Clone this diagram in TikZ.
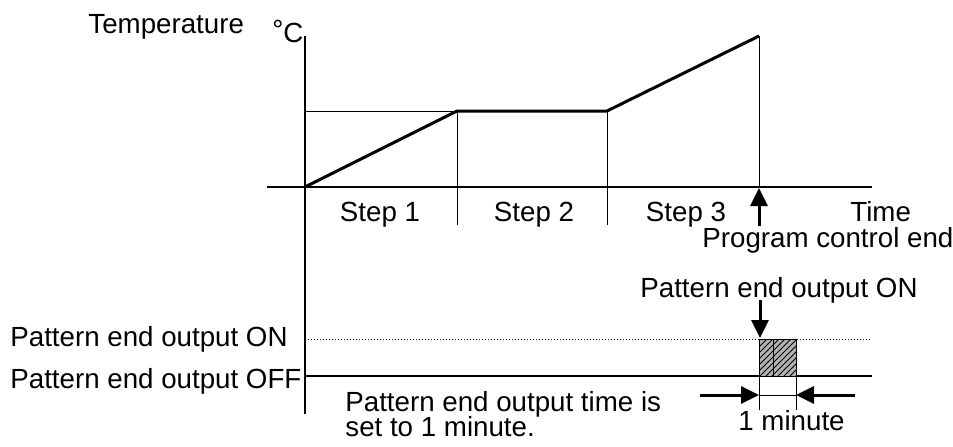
\documentclass[tikz,border=0pt]{standalone}
\usepackage{fontspec}
\setmainfont{Liberation Sans}
\usetikzlibrary{arrows.meta}
\usetikzlibrary{patterns}
\tikzset{
    lbl/.style = {inner sep=0, anchor=base west, font=\fontsize{13.85}{16}\selectfont},
    lblc/.style = {lbl, anchor=base},
    axis/.style = {-, line width=1pt, black},
    prof/.style = {-, line width=1.5pt, black},
    thinl/.style = {-, line width=0.5pt, black},
    dotl/.style = {-, line width=0.5pt, black, densely dotted},
    bigarrow/.style = {-{Triangle[length=9pt,width=8.5pt]}, line width=1.5pt, black},
    hatchbox/.style = {draw=black, line width=0.5pt, fill=gray!60, postaction={pattern=north east lines, pattern color=black}}
}
\begin{document}
\begin{tikzpicture}[x=0.5pt,y=-0.5pt]
\useasboundingbox (0,0) rectangle (953,446);

% axes
\coordinate (ytop) at (305,36);
\coordinate (ybot) at (305,414);
\coordinate (tleft) at (267,187);
\coordinate (tright) at (872,187);
\coordinate (o) at (305,187);
\draw[axis] (ytop) -- (ybot);
\draw[axis] (tleft) -- (tright);

% temperature profile
\coordinate (p1) at (457,111);
\coordinate (p2) at (607,111);
\coordinate (p3) at (759,36);
\coordinate (y1) at (305,111);
\coordinate (s1) at (457,225);
\coordinate (s2) at (607,225);
\coordinate (s3) at (759,187);
\draw[prof] (o) -- (p1) -- (p2) -- (p3);
\draw[thinl] (y1) -- (p1);
\draw[thinl] (p1) -- (s1);
\draw[thinl] (p2) -- (s2);
\draw[thinl] (p3) -- (s3);

\node[lbl] at (88,33) (temp) {Temperature};
\node[lbl] at (272,42) (degc) {\raisebox{1.5pt}{°}C};
\node[lblc] at (380,221) (st1) {Step 1};
\node[lblc] at (534,221) (st2) {Step 2};
\node[lblc] at (686,221) (st3) {Step 3};
\node[lbl] at (850,221) (time) {Time};
\node[lbl] at (702,247) (pce) {Program control end};

% program end arrow
\coordinate (pcetail) at (759,226);
\coordinate (pcetip) at (759,188);
\draw[bigarrow] (pcetail) -- (pcetip);

% output signal
\node[lbl] at (640,297) (peon) {Pattern end output ON};
\node[lbl] at (10,346) (lon) {Pattern end output ON};
\node[lbl] at (10,388) (loff) {Pattern end output OFF};
\coordinate (onl) at (305,339);
\coordinate (onr) at (872,339);
\coordinate (offl) at (305,376);
\coordinate (offr) at (872,376);
\draw[dotl] (onl) -- (onr);
\draw[axis] (offl) -- (offr);

\coordinate (ontail) at (760,300);
\coordinate (ontip) at (760,338);
\draw[bigarrow] (ontail) -- (ontip);

\draw[hatchbox] (759,339) rectangle (773,376);
\draw[hatchbox] (773,339) rectangle (796,376);

% 1 minute dimension
\coordinate (da) at (759,376);
\coordinate (db) at (796,376);
\coordinate (da2) at (759,410);
\coordinate (db2) at (796,410);
\coordinate (dam) at (759,395);
\coordinate (dbm) at (796,395);
\coordinate (dal) at (700,395);
\coordinate (dbr) at (855,395);
\draw[thinl] (da) -- (da2);
\draw[thinl] (db) -- (db2);
\draw[thinl] (dam) -- (dbm);
\draw[bigarrow] (dal) -- (dam);
\draw[bigarrow] (dbr) -- (dbm);

\node[lbl] at (738,430) (onemin) {1 minute};
\node[lbl] at (345,411) (note1) {Pattern end output time is};
\node[lbl] at (345,436) (note2) {set to 1 minute.};

\end{tikzpicture}
\end{document}
